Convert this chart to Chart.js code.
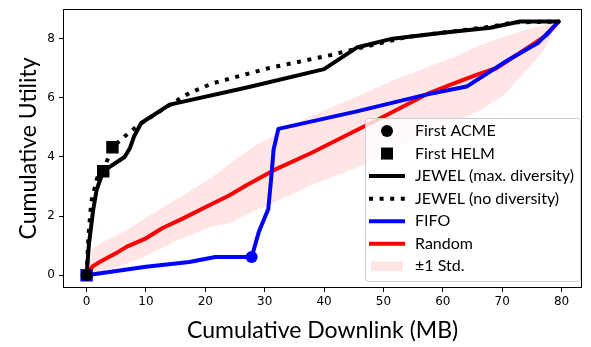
<!DOCTYPE html>
<html><head><meta charset="utf-8">
<script src="https://cdn.jsdelivr.net/npm/chart.js@4/dist/chart.umd.min.js"></script>
<style>html,body{margin:0;padding:0;background:#fff;}#wrap{width:591px;height:347px;}</style>
</head><body><div id="wrap"><canvas id="c" width="591" height="347"></canvas></div>
<script>
const xTicks = [0, 10, 20, 30, 40, 50, 60, 70, 80];
const yTicks = [0, 2, 4, 6, 8];

const jewelMaxX = [0, 0.4, 1.1, 1.7, 2.8, 6.4, 7.3, 8.0, 9.2, 14, 27, 40, 45.5, 51.5, 60, 68, 73, 79.5];
const jewelMaxY = [0, 1.07, 2.2, 2.9, 3.52, 4.0, 4.3, 4.7, 5.15, 5.77, 6.35, 6.97, 7.7, 8.0, 8.2, 8.37, 8.58, 8.58];

const jewelNoDivX = [0, 0.3, 0.8, 1.8, 3.3, 4.35, 6.9, 8.9, 13.6, 17.3, 21.2, 30.6, 41.2, 45.7, 54, 68, 72, 79.5];
const jewelNoDivY = [0, 1.3, 2.5, 3.3, 3.8, 4.33, 4.78, 5.1, 5.71, 6.16, 6.49, 7.0, 7.45, 7.67, 8.06, 8.4, 8.55, 8.58];

const fifoX = [0, 10, 17.3, 21.7, 27.8, 29, 30.6, 31.1, 31.5, 32.3, 45.7, 57, 64, 71, 76, 79.5];
const fifoY = [0, 0.29, 0.45, 0.62, 0.62, 1.46, 2.24, 3.3, 4.26, 4.95, 5.55, 6.1, 6.38, 7.28, 7.85, 8.58];

const randomX = [0, 1, 2.2, 5, 6.7, 10, 12.8, 16, 21, 24, 27, 32, 38, 45.7, 49, 57.7, 62, 66, 69, 73.6, 77.5, 79.5];
const randomY = [0, 0.3, 0.45, 0.75, 0.96, 1.25, 1.6, 1.9, 2.4, 2.7, 3.05, 3.6, 4.15, 4.93, 5.26, 6.16, 6.5, 6.8, 7.0, 7.6, 8.12, 8.58];

const stdX     = [0, 1, 3, 7, 10, 15, 21, 24, 28, 32, 38, 45.7, 51, 57, 62, 66, 70, 74, 77, 79.5];
const stdUpper = [0, 0.9, 1.15, 1.55, 1.95, 2.55, 3.3, 3.75, 4.35, 4.75, 5.4, 6.05, 6.55, 7.0, 7.4, 7.75, 8.05, 8.3, 8.45, 8.58];
const stdLower = [0, 0.05, 0.15, 0.4, 0.65, 1.15, 1.65, 1.75, 2.15, 2.5, 3.05, 3.65, 4.2, 4.75, 5.2, 5.55, 6.05, 6.9, 7.6, 8.58];

const firstAcmeJewelX = [0];
const firstAcmeJewelY = [0];
const firstAcmeFifoX = [27.8];
const firstAcmeFifoY = [0.62];
const firstHelmJewelX = [2.8, 4.35];
const firstHelmJewelY = [3.52, 4.33];
const firstHelmFifoX = [0];
const firstHelmFifoY = [0];

const legendLabels = ['First ACME', 'First HELM', 'JEWEL (max. diversity)', 'JEWEL (no diversity)', 'FIFO', 'Random', '\u00b11 Std.'];

const zip = (xs, ys) => xs.map((x, i) => ({x: x, y: ys[i]}));
const BLUE = '#0000ff', RED = '#ff0000', BAND = 'rgba(255,0,0,0.1)';
const DOT = [4, 6.6];
const TITLE_FONT = 'Lato';

function lineDs(data, color, order, dash) {
  return {data: data, showLine: true, borderColor: color, borderWidth: 4, pointRadius: 0,
    pointHoverRadius: 0, borderDash: dash || [], borderCapStyle: dash ? 'butt' : 'round',
    borderJoinStyle: 'round', fill: false, order: order, tension: 0};
}
function markDs(data, color, style, r, order) {
  return {data: data, showLine: false, pointStyle: style, pointRadius: r, pointHoverRadius: r,
    pointBackgroundColor: color, pointBorderColor: color, pointBorderWidth: 0, order: order};
}

const frame = {
  id: 'frame',
  afterDatasetsDraw(chart) {
    const a = chart.chartArea, ctx = chart.ctx;
    ctx.save();
    ctx.strokeStyle = '#000'; ctx.lineWidth = 1;
    ctx.strokeRect(Math.round(a.left) + 0.5, Math.round(a.top) + 0.5,
      Math.round(a.right - a.left) - 1, Math.round(a.bottom - a.top) - 1);
    ctx.restore();
  }
};

const legend = {
  id: 'customLegend',
  afterDraw(chart) {
    const ctx = chart.ctx;
    const x0 = 365.5, y0 = 118.5, w = 215, h = 163;
    ctx.save();
    ctx.beginPath();
    if (ctx.roundRect) ctx.roundRect(x0, y0, w, h, 3); else ctx.rect(x0, y0, w, h);
    ctx.fillStyle = 'rgba(255,255,255,0.8)'; ctx.fill();
    ctx.strokeStyle = '#cccccc'; ctx.lineWidth = 1; ctx.stroke();
    const hx0 = 369, hx1 = 405, hc = 387, tx = 415;
    legendLabels.forEach((lab, i) => {
      const cy = 131 + i * 22.55;
      ctx.save();
      if (i === 0) {
        ctx.fillStyle = '#000'; ctx.beginPath(); ctx.arc(hc, cy, 6, 0, Math.PI * 2); ctx.fill();
      } else if (i === 1) {
        ctx.fillStyle = '#000'; ctx.fillRect(hc - 6, cy - 6, 12, 12);
      } else if (i === 6) {
        ctx.fillStyle = BAND; ctx.fillRect(371, cy - 5, 32, 10);
      } else {
        ctx.strokeStyle = i === 4 ? BLUE : (i === 5 ? RED : '#000');
        ctx.lineWidth = 4; ctx.lineCap = 'butt';
        if (i === 3) ctx.setLineDash(DOT);
        ctx.beginPath(); ctx.moveTo(hx0, cy); ctx.lineTo(hx1, cy); ctx.stroke();
      }
      ctx.restore();
      ctx.fillStyle = '#000';
      ctx.font = '16px ' + TITLE_FONT;
      ctx.textBaseline = 'middle'; ctx.textAlign = 'left';
      ctx.fillText(lab, tx, cy);
    });
    ctx.restore();
  }
};

const tickFont = {family: 'DejaVu Sans', size: 12};

new Chart(document.getElementById('c'), {
  type: 'scatter',
  data: {
    datasets: [
      markDs(zip(firstAcmeJewelX, firstAcmeJewelY), '#000', 'circle', 6, 0),
      markDs(zip(firstHelmJewelX, firstHelmJewelY), '#000', 'rect', 8.8, 1),
      markDs(zip(firstAcmeFifoX, firstAcmeFifoY), BLUE, 'circle', 6, 2),
      markDs(zip(firstHelmFifoX, firstHelmFifoY), BLUE, 'rect', 8.8, 3),
      lineDs(zip(jewelNoDivX, jewelNoDivY), '#000', 4, DOT),
      lineDs(zip(jewelMaxX, jewelMaxY), '#000', 5),
      lineDs(zip(fifoX, fifoY), BLUE, 6),
      lineDs(zip(randomX, randomY), RED, 7),
      {data: zip(stdX, stdUpper), showLine: true, borderWidth: 0, borderColor: 'rgba(0,0,0,0)',
        pointRadius: 0, backgroundColor: BAND, fill: 9, order: 8, tension: 0},
      {data: zip(stdX, stdLower), showLine: true, borderWidth: 0, borderColor: 'rgba(0,0,0,0)',
        pointRadius: 0, fill: false, order: 9, tension: 0}
    ]
  },
  options: {
    responsive: false, animation: false, devicePixelRatio: 1,
    layout: {padding: {top: 6, right: 5, left: 0, bottom: 0}},
    plugins: {legend: {display: false}, tooltip: {enabled: false}},
    scales: {
      x: {
        type: 'linear', min: -3.975, max: 83.475,
        afterBuildTicks: s => { s.ticks = xTicks.map(v => ({value: v})); },
        afterFit: s => { s.height = 59; s.paddingLeft = 0; s.paddingRight = 0; },
        grid: {drawOnChartArea: false, drawTicks: true, tickLength: 4, color: '#000', tickWidth: 1},
        border: {display: false},
        ticks: {font: tickFont, color: '#000', padding: 3, maxRotation: 0, autoSkip: false},
        title: {display: true, text: 'Cumulative Downlink (MB)', color: '#000',
          font: {family: TITLE_FONT, size: 23}, padding: {top: 0, bottom: 3}}
      },
      y: {
        type: 'linear', min: -0.43, max: 9.01,
        afterBuildTicks: s => { s.ticks = yTicks.map(v => ({value: v})); },
        afterFit: s => { s.width = 63; s.paddingTop = 0; s.paddingBottom = 0; },
        grid: {drawOnChartArea: false, drawTicks: true, tickLength: 4, color: '#000', tickWidth: 1},
        border: {display: false},
        ticks: {font: tickFont, color: '#000', padding: 4, autoSkip: false},
        title: {display: true, text: 'Cumulative Utility', color: '#000',
          font: {family: TITLE_FONT, size: 23}, padding: {top: 15, bottom: 0}}
      }
    }
  },
  plugins: [frame, legend]
});
</script></body></html>
